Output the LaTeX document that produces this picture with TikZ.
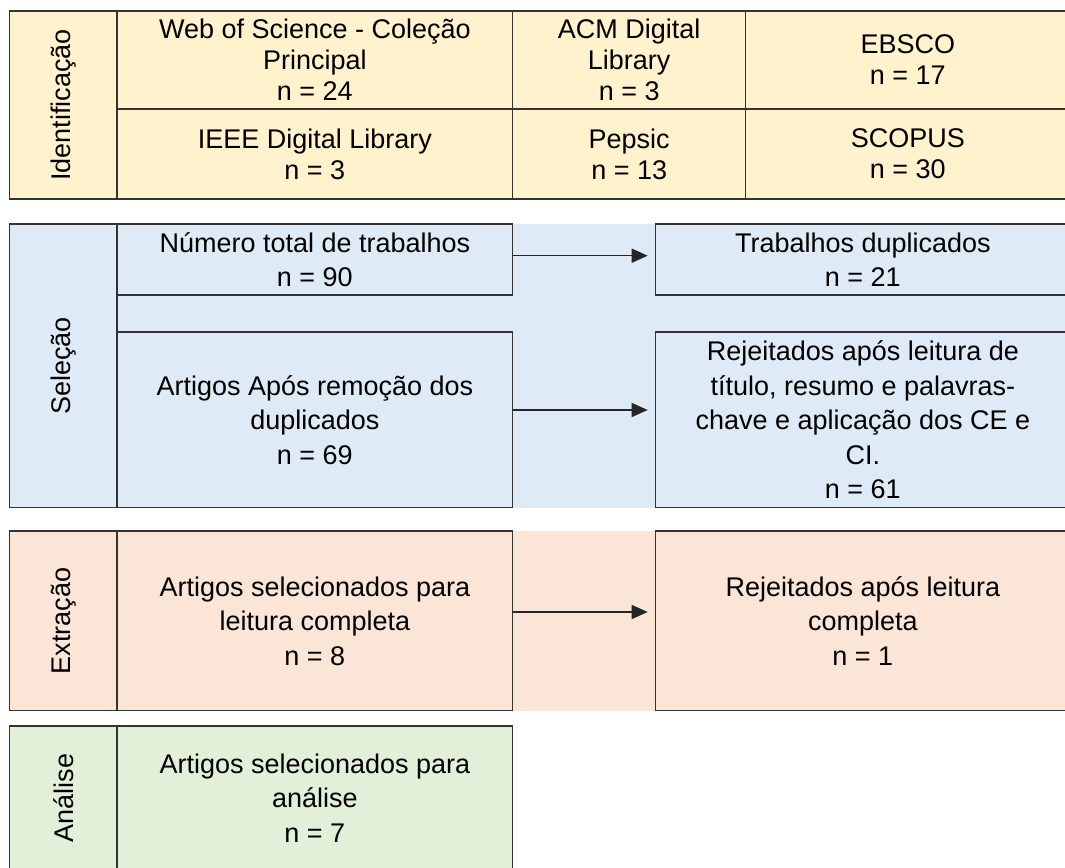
\documentclass[tikz,border=0pt]{standalone}
\usepackage{fontspec}
\setmainfont{Liberation Sans}
\usetikzlibrary{arrows.meta}
\definecolor{idfill}{HTML}{FFF2CC}
\definecolor{selfill}{HTML}{DEEBF7}
\definecolor{extfill}{HTML}{FBE5D6}
\definecolor{anfill}{HTML}{E2F0D9}
\definecolor{linecol}{HTML}{333333}

\begin{document}
\begin{tikzpicture}[x=1pt, y=-1pt,
		cell/.style={draw=linecol, line width=1.3pt, inner sep=0pt, outer sep=0pt, align=center, font=\fontsize{27}{34.5}\selectfont},
		tight/.style={font=\fontsize{27}{31}\selectfont},
		lab/.style={cell, rotate=90, minimum height=107.5},
		flow/.style={-{Triangle[length=16pt,width=14pt]}, line width=1.5pt, draw=black!85, shorten >=8pt}]
		\useasboundingbox (0,0) rectangle (1065,867);
		% band backgrounds
		\fill[selfill] (9.5,224) rectangle (1070,507.7);
		\fill[extfill] (9.5,531) rectangle (1070,710.7);
		% Identificacao
		\node[lab, fill=idfill, minimum width=188] (idlab) at (63.25,105) {Identificação};
		\node[cell, tight, fill=idfill, minimum width=395.7, minimum height=98] (wos) at (314.85,60) {Web of Science - Coleção\\Principal\\n = 24};
		\node[cell, tight, fill=idfill, minimum width=233, minimum height=98] (acm) at (629.2,60) {ACM Digital\\Library\\n = 3};
		\node[cell, tight, fill=idfill, minimum width=324.3, minimum height=98] (ebsco) at (907.85,60) {EBSCO\\n = 17};
		\node[cell, tight, fill=idfill, minimum width=395.7, minimum height=90] (ieee) at (314.85,154) {IEEE Digital Library\\n = 3};
		\node[cell, tight, fill=idfill, minimum width=233, minimum height=90] (pepsic) at (629.2,154) {Pepsic\\n = 13};
		\node[cell, tight, fill=idfill, minimum width=324.3, minimum height=90] (scopus) at (907.85,154) {SCOPUS\\n = 30};
		% Selecao
		\node[lab, fill=selfill, minimum width=283.7] (sellab) at (63.25,365.85) {Seleção};
		\node[cell, fill=selfill, minimum width=395.7, minimum height=71] (total) at (314.85,259.5) {Número total de trabalhos\\n = 90};
		\node[cell, fill=selfill, minimum width=414.3, minimum height=71] (dup) at (862.85,259.5) {Trabalhos duplicados\\n = 21};
		\node[cell, fill=selfill, minimum width=395.7, minimum height=175.7] (semdup) at (314.85,419.85) {Artigos Após remoção dos\\duplicados\\n = 69};
		\node[cell, fill=selfill, minimum width=414.3, minimum height=175.7] (rej) at (862.85,419.85) {Rejeitados após leitura de\\título, resumo e palavras-\\chave e aplicação dos CE e\\CI.\\n = 61};
		\draw[flow] ([yshift=3.8pt]total.east) -- ([yshift=3.8pt]dup.west);
		\draw[flow] ([yshift=9.85pt]semdup.east) -- ([yshift=9.85pt]rej.west);
		% Extracao
		\node[lab, fill=extfill, minimum width=179.7] (extlab) at (63.25,620.85) {Extração};
		\node[cell, fill=extfill, minimum width=395.7, minimum height=179.7] (leit) at (314.85,620.85) {Artigos selecionados para\\leitura completa\\n = 8};
		\node[cell, fill=extfill, minimum width=414.3, minimum height=179.7] (rejleit) at (862.85,620.85) {Rejeitados após leitura\\completa\\n = 1};
		\draw[flow] ([yshift=8.85pt]leit.east) -- ([yshift=8.85pt]rejleit.west);
		% Analise
		\node[lab, fill=anfill, minimum width=144] (analab) at (63.25,798) {Análise};
		\node[cell, fill=anfill, minimum width=395.7, minimum height=144] (anal) at (314.85,798) {Artigos selecionados para\\análise\\n = 7};
	\end{tikzpicture}
\end{document}
